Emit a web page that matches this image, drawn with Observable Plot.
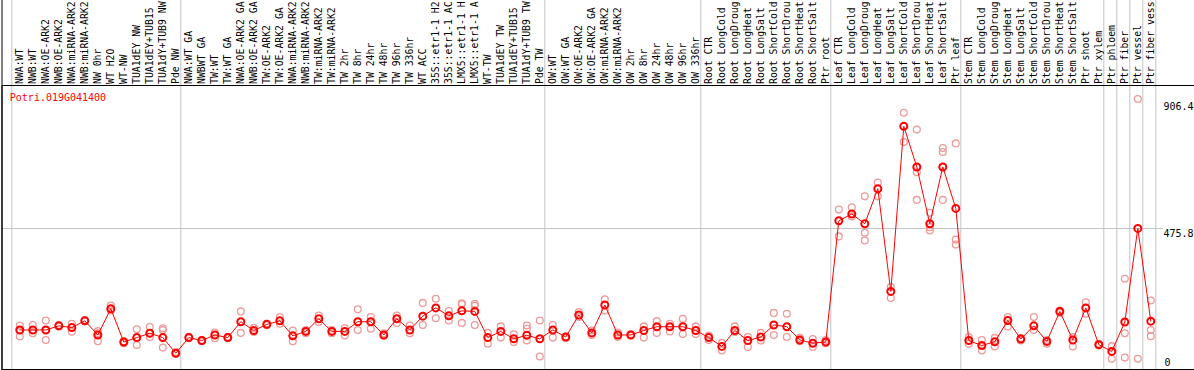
<!DOCTYPE html>
<html>
<head>
<meta charset="utf-8">
<script src="https://cdn.jsdelivr.net/npm/d3@7"></script>
<script src="https://cdn.jsdelivr.net/npm/@observablehq/plot@0.6"></script>
<style>
  html, body { margin: 0; padding: 0; background: #fff; overflow: hidden; }
</style>
</head>
<body>
<div id="chart"></div>
<script>
const geneId = "Potri.019G041400";

// sample labels as they appear in the header (cut to the header height)
const labels = [
  "NWA:WT","NWB:WT","NWA:OE-ARK2","NWB:OE-ARK2","NWA:miRNA-ARK2","NWB:miRNA-ARK2","NW 0hr","WT H2O","WT-NW","TUA1dEY NW","TUA1dEY+TUB15","TUA1dY+TUB9 NW","Pde NW",
  "NWA:WT GA","NWBWT GA","TW:WT","TW:WT GA","NWA:OE-ARK2 GA","NWB:OE-ARK2 GA","TW:OE-ARK2","TW:OE-ARK2 GA","NWA:miRNA-ARK2","NWB:miRNA-ARK2","TW:miRNA-ARK2","TW:miRNA-ARK2","TW 2hr","TW 8hr","TW 24hr","TW 48hr","TW 96hr","TW 336hr","WT ACC","35S::etr1-1 H2","35S::etr1-1 AC","LMX5::etr1-1 H","LMX5::etr1-1 A","WT-TW","TUA1dEY TW","TUA1dEY+TUB15","TUA1dY+TUB9 TW","Pde TW",
  "OW:WT","OW:WT GA","OW:OE-ARK2","OW:OE-ARK2 GA","OW:miRNA-ARK2","OW:miRNA-ARK2","OW 2hr","OW 8hr","OW 24hr","OW 48hr","OW 96hr","OW 336hr",
  "Root CTR","Root LongCold","Root LongDroug","Root LongHeat","Root LongSalt","Root ShortCold","Root ShortDrou","Root ShortHeat","Root ShortSalt","Ptr root",
  "Leaf CTR","Leaf LongCold","Leaf LongDroug","Leaf LongHeat","Leaf LongSalt","Leaf ShortCold","Leaf ShortDrou","Leaf ShortHeat","Leaf ShortSalt","Ptr leaf",
  "Stem CTR","Stem LongCold","Stem LongDroug","Stem LongHeat","Stem LongSalt","Stem ShortCold","Stem ShortDrou","Stem ShortHeat","Stem ShortSalt","Ptr shoot",
  "Ptr xylem","Ptr phloem","Ptr fiber","Ptr vessel","Ptr fiber vess"
];

// index of the first sample of each block (vertical separators)
const groupStarts = [0, 13, 41, 53, 63, 73, 84, 85, 86, 87, 88];

// sample means
const means = [
  131,131,131,145,139,162,114,203,90,105,120,105,52,
  105,95,114,105,159,129,150,162,111,126,169,126,126,159,159,114,169,131,178,206,179,196,194,105,126,101,113,101,
  131,107,182,121,216,114,114,129,142,142,142,129,
  105,75,129,95,107,148,142,97,86,90,
  502,525,492,611,262,823,685,492,685,544,
  95,78,91,163,100,145,92,194,97,206,
  81,58,158,476,161
];

// individual replicates
const rep1 = [
  146,148,163,148,152,165,127,214,93,133,141,137,56,
  108,97,122,108,194,138,152,175,129,131,180,131,137,201,175,120,180,146,223,237,195,222,220,121,143,116,146,163,
  148,109,192,129,235,122,116,143,161,152,169,143,
  112,87,143,107,121,189,186,104,100,97,
  540,548,585,632,277,869,812,529,749,765,
  107,97,104,175,104,175,97,197,107,225,
  84,76,305,916,231
];
const rep2 = [
  109,120,97,143,125,161,93,197,86,80,107,131,50,
  103,93,103,103,121,124,147,152,93,120,158,120,112,131,135,111,155,120,148,171,163,155,213,84,105,90,135,41,
  105,104,175,114,197,107,112,105,121,126,117,117,
  97,61,124,73,95,114,107,93,73,86,
  449,517,461,585,240,770,667,480,736,438,
  84,61,75,143,95,131,84,189,75,186,
  78,33,120,33,131
];
const rep3 = [
  131,131,131,null,null,null,120,null,null,105,118,71,null,
  null,null,null,null,null,null,null,null,null,null,null,null,null,null,null,null,null,null,null,null,null,218,148,null,null,null,95,null,
  null,null,null,null,null,null,null,null,null,null,null,null,
  null,null,null,null,null,null,null,null,null,null,
  null,null,435,null,null,null,573,469,573,421,
  null,null,null,null,null,null,null,null,null,null,
  null,null,37,null,110
];

const yTicks = [0, 475.8, 906.4];
const yMax = 951.6;

const rows = labels.map((label, i) => ({i, label, mean: means[i]}));
const reps = [rep1, rep2, rep3]
  .flatMap(r => r.map((v, i) => ({i, v})))
  .filter(d => d.v != null);

const labelBand = 85;
const chart = Plot.plot({
  width: 1194,
  height: 370,
  marginTop: labelBand,
  marginBottom: 1,
  marginLeft: 1.5,
  marginRight: -1,
  x: {domain: [-0.5, labels.length - 0.5], range: [12.8, 1156.8], axis: null},
  y: {domain: [0, yMax], range: [368, 88], axis: null},
  style: {fontFamily: "'DejaVu Sans Mono', monospace", fontSize: "10px", background: "#fff"},
  marks: [
    Plot.ruleY([yTicks[1]], {stroke: "#c4c4c4", insetRight: 32}),
    Plot.ruleX(groupStarts, {x: d => d - 0.5, dx: -1.5, stroke: "#c4c4c4", insetTop: -labelBand}),
    Plot.frame({stroke: "#000", insetTop: -(labelBand + 1)}),
    Plot.frame({stroke: "#000"}),
    Plot.text(rows, {
      x: "i", text: "label", frameAnchor: "top", dy: -1.5, fontSize: 9.8,
      rotate: -90, textAnchor: "start", lineAnchor: "middle", fill: "#000"
    }),
    Plot.text([geneId], {
      frameAnchor: "top-left", dx: 7.8, dy: 8.5, textAnchor: "start", lineAnchor: "top", fill: "#ff0000"
    }),
    Plot.text(yTicks.filter(d => d > 0), {
      y: d => d, text: d => String(d), frameAnchor: "right", dx: -32, dy: 5.3,
      textAnchor: "start", lineAnchor: "middle", fill: "#000"
    }),
    Plot.text(yTicks.filter(d => d === 0), {
      y: d => d, text: d => String(d), frameAnchor: "right", dx: -31, dy: -5.3,
      textAnchor: "start", lineAnchor: "middle", fill: "#000"
    }),
    Plot.dot(reps, {x: "i", y: "v", r: 3.4, fill: "none", stroke: "#ee9a9a", strokeWidth: 1.3}),
    Plot.line(rows, {x: "i", y: "mean", stroke: "#ff0000", strokeWidth: 1}),
    Plot.dot(rows, {x: "i", y: "mean", r: 3.5, fill: "none", stroke: "#ff0000", strokeWidth: 2})
  ]
});
document.getElementById("chart").appendChild(chart);
</script>
</body>
</html>
